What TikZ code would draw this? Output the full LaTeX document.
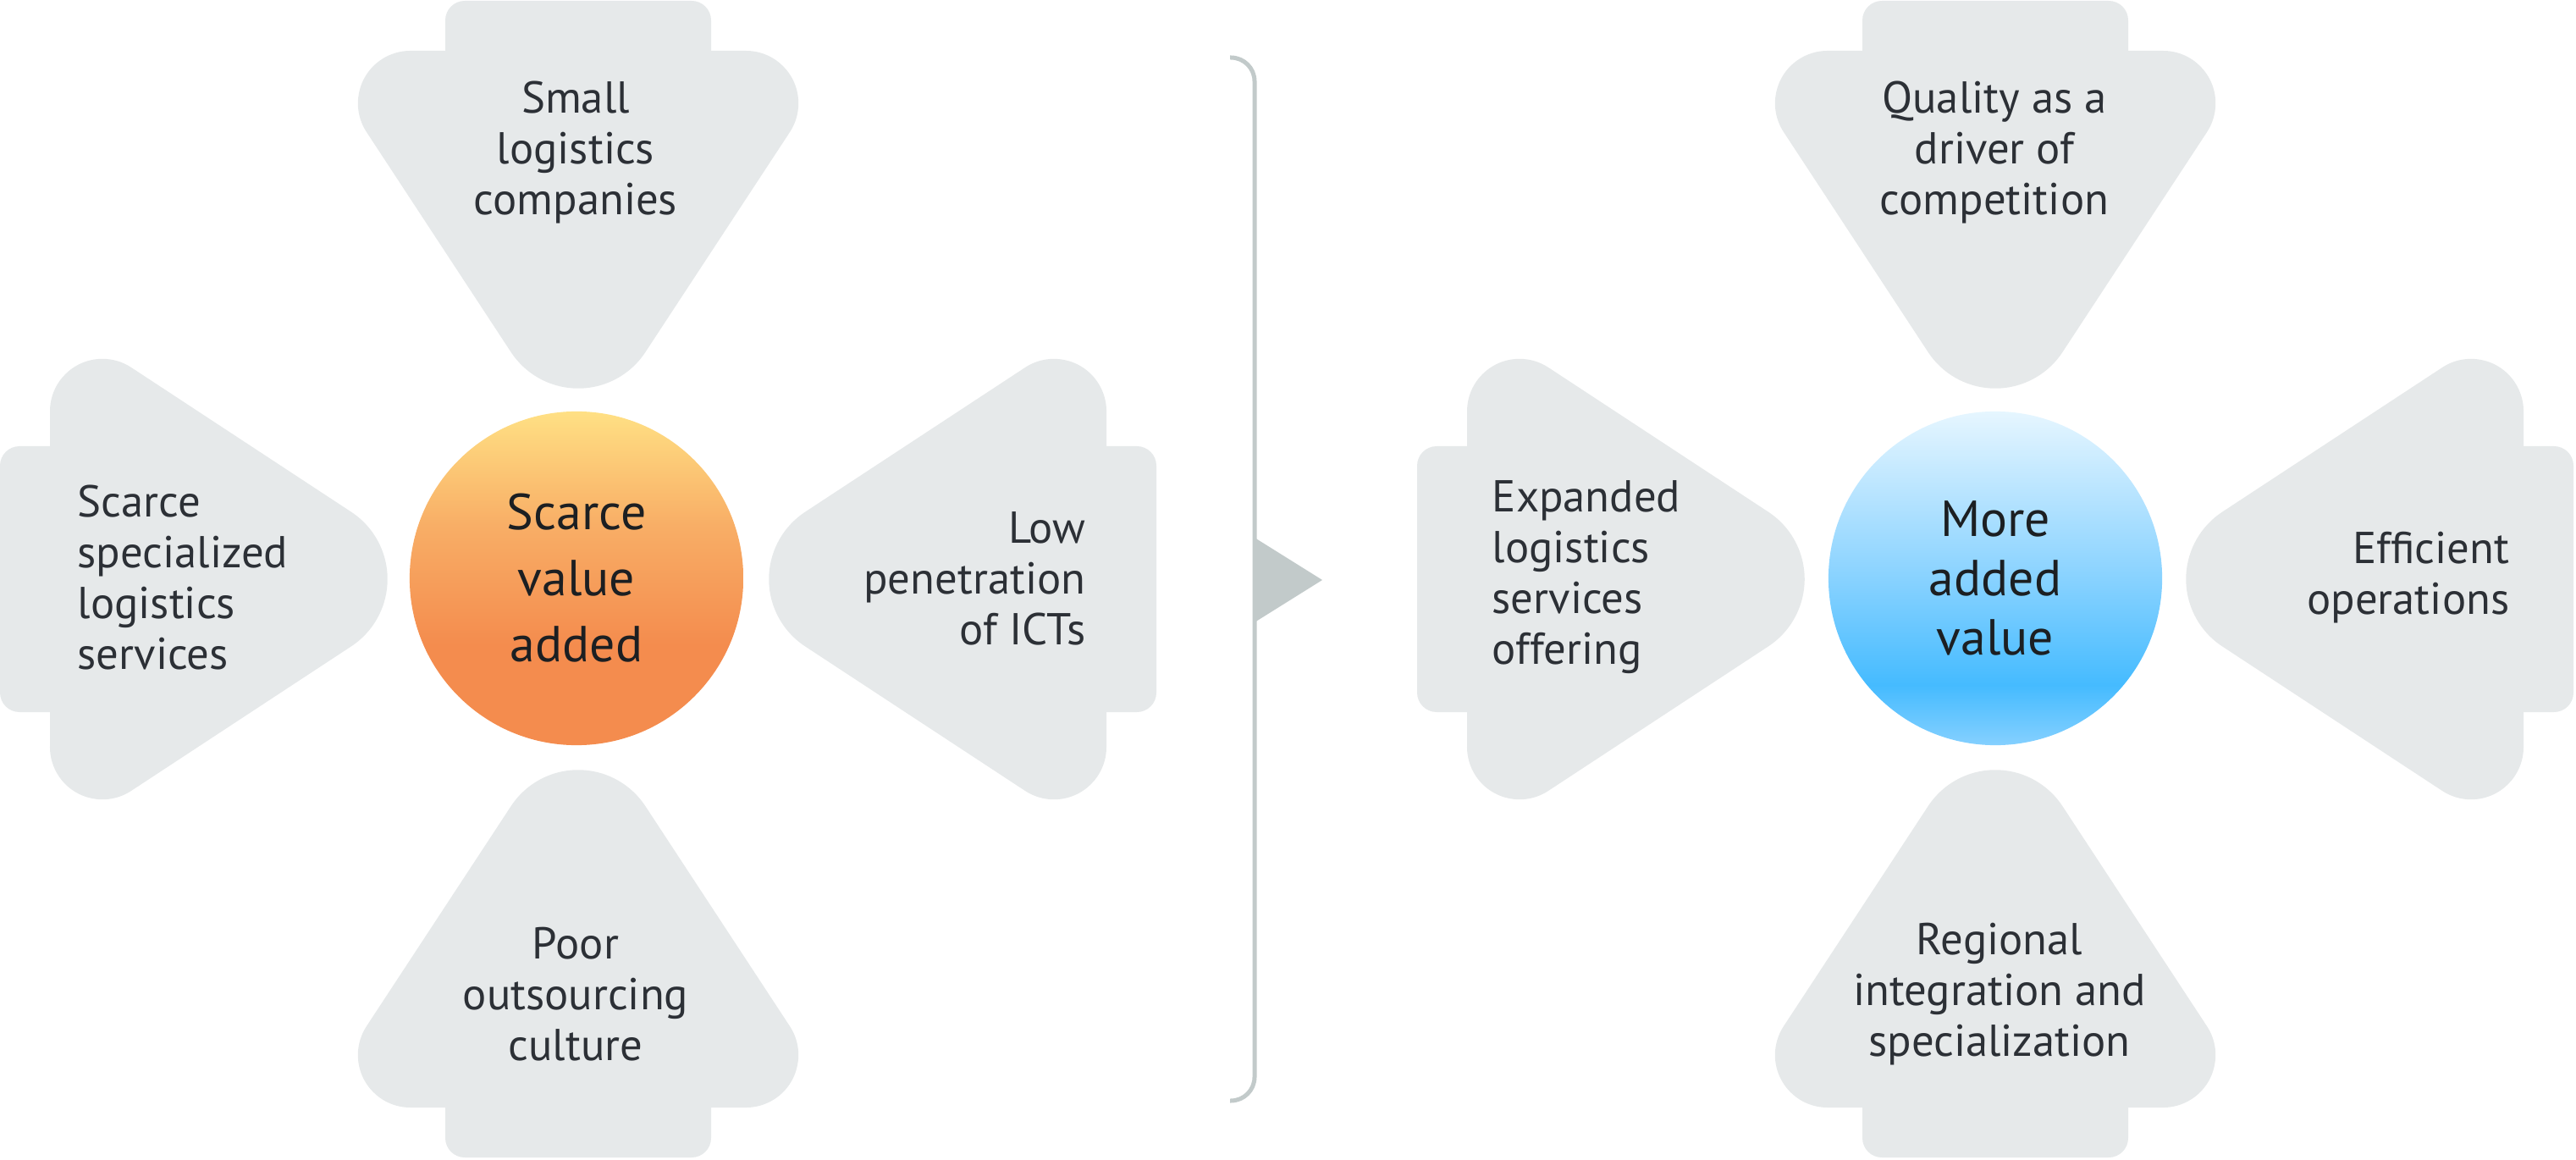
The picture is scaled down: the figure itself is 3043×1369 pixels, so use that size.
\documentclass[tikz,border=0pt]{standalone}
\usepackage{fontspec}
\setmainfont{PT Sans}
\definecolor{arrowgray}{HTML}{E6E9EA}
\definecolor{txtcol}{HTML}{2C3036}
\definecolor{circtxt}{HTML}{1C1F22}
\definecolor{sepcol}{HTML}{C2CACA}
\definecolor{orT}{HTML}{FFE084}
\definecolor{orM}{HTML}{F8AE66}
\definecolor{orB}{HTML}{F48C4E}
\definecolor{blT}{HTML}{E6F6FF}
\definecolor{blU}{HTML}{B5E3FF}
\definecolor{blM}{HTML}{88D2FF}
\definecolor{blD}{HTML}{45BBFF}
\definecolor{blB}{HTML}{85D0FF}
\pgfdeclareverticalshading{orangesh}{100bp}{color(0bp)=(orB); color(40bp)=(orB); color(58bp)=(orM); color(75bp)=(orT); color(100bp)=(orT)}
\pgfdeclareverticalshading{bluesh}{100bp}{color(0bp)=(blB); color(25bp)=(blB); color(34bp)=(blD); color(50bp)=(blM); color(62bp)=(blU); color(75bp)=(blT); color(100bp)=(blT)}
\newcommand\lgArrowShape{%
  \fill[arrowgray,rounded corners=0.23cm] (-600,-157) -- (-683,-157) -- (-683,157) -- (-600,157) -- cycle;
  \fill[arrowgray] (-624,-198.2) -- (-624,198.2) arc[start angle=180,end angle=56.7,radius=62]
    -- (-268.1,79.4) arc[start angle=56.7,end angle=-56.7,radius=95]
    -- (-528,-250) arc[start angle=-56.7,end angle=-180,radius=62] -- cycle;
}
\tikzset{
  lbl/.style={inner sep=0pt, text=txtcol, font=\fontsize{15}{17.07}\selectfont},
  ball/.style={circle, inner sep=0pt, minimum size=3.94cm, text=circtxt, align=center, shade},
}
\begin{document}
\begin{tikzpicture}[x=0.01cm,y=0.01cm]
\useasboundingbox (0,0) rectangle (3043,1369);
% left group
\begin{scope}[shift={(683,685)}]
  \lgArrowShape
\end{scope}
\begin{scope}[shift={(683,685)},rotate=-90]
  \lgArrowShape
\end{scope}
\begin{scope}[shift={(683,685)},rotate=180]
  \lgArrowShape
\end{scope}
\begin{scope}[shift={(683,685)},rotate=90]
  \lgArrowShape
\end{scope}
% right group
\begin{scope}[shift={(2357,685)}]
  \lgArrowShape
\end{scope}
\begin{scope}[shift={(2357,685)},rotate=-90]
  \lgArrowShape
\end{scope}
\begin{scope}[shift={(2357,685)},rotate=180]
  \lgArrowShape
\end{scope}
\begin{scope}[shift={(2357,685)},rotate=90]
  \lgArrowShape
\end{scope}
% circles
\node (c1) [ball, shading=orangesh, font=\fontsize{17}{22.2}\selectfont] at (681,686) {Scarce\\value\\added};
\node (c2) [ball, shading=bluesh, font=\fontsize{17}{19.9}\selectfont] at (2357,686) {More\\added\\value};
% left labels
\node (t1) [lbl, align=center] at (680,1189) {Small\\logistics\\companies};
\node (t2) [lbl, align=left, anchor=west] at (91,687) {Scarce\\specialized\\logistics\\services};
\node (t3) [lbl, align=right, anchor=east] at (1283,686) {Low\\penetration\\of ICTs};
\node (t4) [lbl, align=center] at (680,195) {Poor\\outsourcing\\culture};
% right labels
\node (t5) [lbl, align=center] at (2356,1189) {Quality as a\\driver of\\competition};
\node (t6) [lbl, align=left, anchor=west] at (1762,687) {Expanded\\logistics\\services\\offering};
\node (t7) [lbl, align=right, anchor=east] at (2965,687) {Efficient\\operations};
\node (t8) [lbl, align=center] at (2362,195) {Regional\\integration and\\specialization};
% separator
\coordinate (bt) at (1453,1301);
\coordinate (bb) at (1453,69);
\draw[sepcol, line width=0.05cm, rounded corners=0.28cm] (bt) -- (1482,1301) -- (1482,69) -- (bb);
\fill[sepcol] (1482,734) -- (1562,684) -- (1482,634) -- cycle;
\end{tikzpicture}
\end{document}
